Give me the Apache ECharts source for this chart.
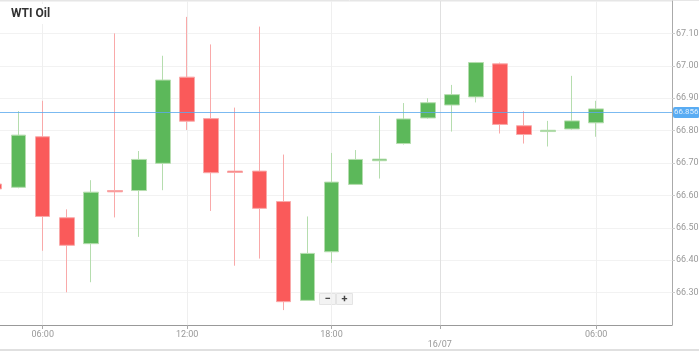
<!DOCTYPE html>
<html>
<head>
<meta charset="utf-8">
<script src="https://cdn.jsdelivr.net/npm/echarts@6/dist/echarts.min.js"></script>
<style>
  html, body { margin: 0; padding: 0; background: #fff; }
  #chart { width: 699px; height: 351px; }
</style>
</head>
<body>
<div id="chart"></div>
<script>
// hourly candles, 15/07 04:00 -> 16/07 06:00 (23:00 break)
const times = ['04:00', '05:00', '06:00', '07:00', '08:00', '09:00', '10:00', '11:00', '12:00',
  '13:00', '14:00', '15:00', '16:00', '17:00', '18:00', '19:00', '20:00', '21:00', '22:00',
  '00:00', '01:00', '02:00', '03:00', '04:00', '05:00', '06:00']
const opens  = [66.635, 66.625, 66.781, 66.531, 66.451, 66.615, 66.615, 66.699, 66.965, 66.837,
  66.675, 66.675, 66.581, 66.276, 66.426, 66.634, 66.707, 66.760, 66.839, 66.879, 66.904,
  67.006, 66.815, 66.797, 66.805, 66.824]
const closes = [66.620, 66.786, 66.535, 66.446, 66.610, 66.611, 66.711, 66.956, 66.829, 66.670,
  66.671, 66.560, 66.272, 66.421, 66.641, 66.711, 66.712, 66.836, 66.886, 66.911, 67.010,
  66.819, 66.788, 66.801, 66.830, 66.867]
const lows   = [66.590, 66.622, 66.429, 66.301, 66.332, 66.532, 66.472, 66.616, 66.802, 66.552,
  66.383, 66.405, 66.246, 66.274, 66.392, 66.632, 66.652, 66.757, 66.837, 66.797, 66.887,
  66.791, 66.760, 66.751, 66.803, 66.781]
const highs  = [66.660, 66.860, 66.892, 66.557, 66.647, 67.100, 66.737, 67.031, 67.151, 67.066,
  66.871, 67.121, 66.726, 66.535, 66.731, 66.740, 66.846, 66.885, 66.900, 66.941, 67.012,
  67.010, 66.860, 66.830, 66.969, 66.892]
const lastPrice = 66.856

// x ticks (candle index positions)
const tickPos  = [2, 8, 14, 18.5, 25]
const tickText = ['06:00', '12:00', '18:00', '16/07', '06:00']

const candles = times.map((t, i) => [i, opens[i], closes[i], lows[i], highs[i]])

const chart = echarts.init(document.getElementById('chart'))
chart.setOption({
  animation: false,
  backgroundColor: '#fff',
  textStyle: { fontFamily: 'Roboto' },
  title: {
    text: 'WTI Oil',
    left: 6, top: 4,
    padding: [4, 5],
    backgroundColor: '#fff',
    textStyle: { fontSize: 12, fontWeight: 'bold', color: '#333', fontFamily: 'Roboto' }
  },
  grid: { left: 0, right: 27, top: 1, bottom: 26, outerBoundsMode: 'none' },
  xAxis: {
    type: 'value',
    min: 0.224,
    max: 28.15,
    axisLine: { lineStyle: { color: '#999' } },
    axisTick: { customValues: tickPos, length: 4, lineStyle: { color: '#aaa' } },
    axisLabel: {
      customValues: tickPos,
      fontSize: 9,
      color: '#999',
      margin: 5,
      lineHeight: 10,
      formatter: v => {
        const k = tickPos.indexOf(v)
        if (k < 0) return ''
        return tickText[k] === '16/07' ? '\n' + tickText[k] : tickText[k]
      }
    },
    splitLine: {
      show: true,
      lineStyle: { color: ['#efefef', '#efefef', '#efefef', '#e0e0e0', '#efefef'] }
    }
  },
  yAxis: {
    type: 'value',
    position: 'right',
    min: 66.2,
    max: 67.2,
    interval: 0.1,
    axisLine: { show: true, lineStyle: { color: '#aaa' } },
    axisTick: { show: true, length: 3, lineStyle: { color: '#ccc' } },
    axisLabel: {
      fontSize: 9, color: '#999', margin: 4,
      showMinLabel: false, showMaxLabel: false,
      formatter: v => v.toFixed(3)
    },
    splitLine: { lineStyle: { color: '#f2f2f2' } }
  },
  series: [{
    type: 'candlestick',
    data: candles,
    encode: { x: 0, y: [1, 2, 3, 4] },
    barWidth: 15,
    clip: true,
    itemStyle: {
      color: '#5cb85a',
      color0: '#fa5a5a',
      borderColor: '#b5ddae',
      borderColor0: '#f9a9a9',
      borderWidth: 1
    },
    markLine: {
      symbol: 'none',
      silent: true,
      precision: 3,
      lineStyle: { color: '#5aa9ee', width: 1, type: 'solid', opacity: 0.8 },
      label: {
        position: 'end',
        distance: 1,
        formatter: () => lastPrice.toFixed(3),
        color: '#fff',
        fontSize: 8,
        backgroundColor: '#2f97f0',
        borderRadius: 2,
        padding: [2, 1, 1, 1]
      },
      data: [{ yAxis: lastPrice, lineStyle: { color: '#5aa9ee' } }]
    }
  }],
  graphic: [
    { type: 'line', shape: { x1: 0, y1: 0.5, x2: 699, y2: 0.5 }, style: { stroke: '#e6e6e6', lineWidth: 1 } },
    { type: 'line', shape: { x1: 0, y1: 350, x2: 699, y2: 350 }, style: { stroke: '#e0e0e0', lineWidth: 2 } },
    {
      type: 'group', left: 319, top: 293,
      children: [
        { type: 'rect', shape: { x: 0, y: 0, width: 16, height: 11 }, style: { fill: '#f3f3f3', stroke: '#e4e4e4' } },
        { type: 'rect', shape: { x: 17, y: 0, width: 16, height: 11 }, style: { fill: '#f3f3f3', stroke: '#e4e4e4' } },
        { type: 'text', x: 8, y: 5.5, style: { text: '−', fill: '#444', font: 'bold 11px Roboto', align: 'center', verticalAlign: 'middle' } },
        { type: 'text', x: 25, y: 5.5, style: { text: '+', fill: '#444', font: 'bold 11px Roboto', align: 'center', verticalAlign: 'middle' } }
      ]
    }
  ]
})
</script>
</body>
</html>
